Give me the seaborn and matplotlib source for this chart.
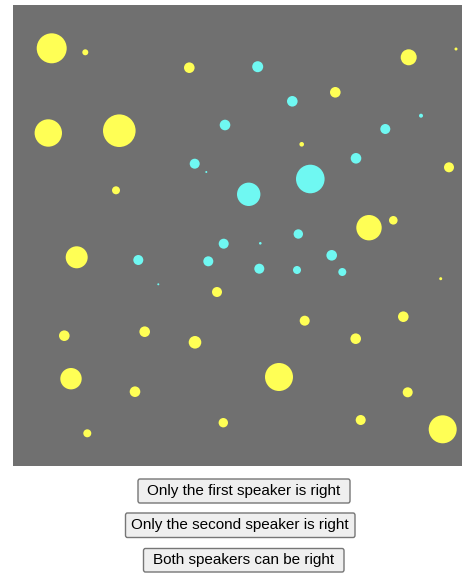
import seaborn as sns
import matplotlib.pyplot as plt
import pandas as pd
from matplotlib.patches import FancyBboxPatch

# dots (position and radius in pixels of the square)
yellow_x = [51.7, 85.3, 189.3, 48.3, 119.3, 116.0, 408.7, 456.0, 335.3, 301.7, 449.0, 369.0, 393.3,
            76.7, 217.0, 64.3, 144.7, 195.0, 71.0, 135.0, 87.3, 223.3,
            440.7, 304.7, 403.3, 355.7, 279.0, 407.7, 360.7, 442.7]
yellow_y = [48.3, 52.3, 67.7, 133.0, 130.7, 190.3, 57.3, 49.0, 92.3, 144.3, 167.3, 227.7, 220.3,
            257.3, 292.0, 335.7, 331.7, 342.3, 378.7, 391.7, 433.3, 422.7,
            278.7, 320.7, 316.7, 338.7, 377.0, 392.3, 420.0, 429.3]
yellow_r = [15.0, 3.0, 5.3, 13.7, 16.3, 4.0, 8.0, 1.5, 5.3, 2.3, 5.0, 12.7, 4.3,
            11.0, 5.0, 5.3, 5.3, 6.3, 10.7, 5.3, 4.0, 4.7,
            1.5, 5.0, 5.3, 5.3, 14.0, 5.0, 5.0, 14.0]

cyan_x = [225.0, 194.7, 206.3, 257.7, 292.3, 421.0, 385.3, 356.0, 310.3, 248.7, 298.3,
          138.3, 223.7, 208.3, 158.3, 260.3, 331.7, 259.3, 297.0, 342.3]
cyan_y = [125.0, 163.7, 172.0, 66.7, 101.3, 115.7, 129.0, 158.3, 179.0, 194.3, 234.0,
          260.0, 243.7, 261.3, 284.3, 243.3, 255.3, 268.7, 270.0, 272.0]
cyan_r = [5.3, 5.0, 1.0, 5.5, 5.3, 2.0, 5.0, 5.3, 14.3, 11.7, 4.7,
          5.0, 5.0, 5.0, 1.0, 1.3, 5.3, 5.0, 4.0, 4.0]

buttons = ["Only the first speaker is right",
           "Only the second speaker is right",
           "Both speakers can be right"]

df = pd.DataFrame({
    "x": yellow_x + cyan_x,
    "y": yellow_y + cyan_y,
    "r": yellow_r + cyan_r,
    "kind": ["yellow"] * len(yellow_x) + ["cyan"] * len(cyan_x),
})

W, H, DPI = 466, 573, 100
fig = plt.figure(figsize=(W / DPI, H / DPI), dpi=DPI)
fig.patch.set_facecolor("white")

# grey square
left, top, right, bottom = 13, 4.5, 462, 466
ax = fig.add_axes([left / W, 1 - bottom / H, (right - left) / W, (bottom - top) / H])
ax.set_facecolor("#707070")

# marker size in points^2 from pixel radius
df["s"] = (2 * df["r"] * 72 / DPI) ** 2

sns.scatterplot(data=df, x="x", y="y", hue="kind",
                palette={"yellow": "#ffff55", "cyan": "#6ff8f2"},
                s=df["s"].values, linewidth=0, legend=False, ax=ax)

ax.set_xlim(left, right)
ax.set_ylim(bottom, top)
ax.set_xticks([])
ax.set_yticks([])
ax.set_xlabel("")
ax.set_ylabel("")
for sp in ax.spines.values():
    sp.set_visible(False)

# buttons (pixel boxes: x0, x1, y0, y1 from top)
boxes = [(138, 350, 479, 503), (125.5, 355, 513, 537.5), (143.5, 344, 548.5, 572)]
for label, (x0, x1, y0, y1) in zip(buttons, boxes):
    p = FancyBboxPatch((x0 / W, 1 - y1 / H), (x1 - x0) / W, (y1 - y0) / H,
                       boxstyle="round,pad=0,rounding_size=0.004",
                       transform=fig.transFigure, facecolor="#efefef",
                       edgecolor="#767676", linewidth=1)
    fig.patches.append(p)
    fig.text((x0 + x1) / 2 / W, 1 - (y0 + y1) / 2 / H, label,
             ha="center", va="center", fontsize=11,
             family=["Liberation Sans", "DejaVu Sans"], color="black")

fig.savefig("out.png", dpi=DPI)
